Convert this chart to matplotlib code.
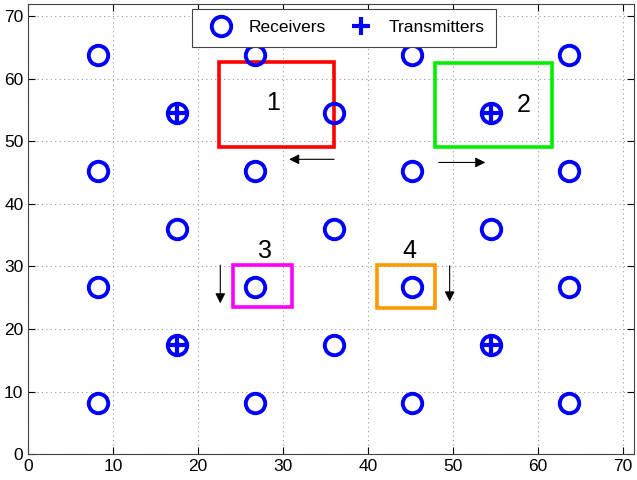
import matplotlib
matplotlib.use("Agg")
import matplotlib.pyplot as plt
import matplotlib.patches as patches

plt.rcParams['font.family'] = ['Liberation Sans', 'DejaVu Sans']

# receivers: outer 4x4 grid and inner 3x3 grid
outer_pos = [8.2, 26.7, 45.2, 63.7]
inner_pos = [17.5, 36.0, 54.5]
rx_x = [x for y in outer_pos for x in outer_pos] + [x for y in inner_pos for x in inner_pos]
rx_y = [y for y in outer_pos for x in outer_pos] + [y for y in inner_pos for x in inner_pos]

# transmitters
tx_x = [17.5, 54.5, 17.5, 54.5]
tx_y = [54.5, 54.5, 17.5, 17.5]

# numbered regions: (x0, y0, x1, y1)
region_names = ['1', '2', '3', '4']
region_boxes = [(22.4, 49.1, 36.0, 62.6), (47.9, 49.1, 61.6, 62.5),
                (24.1, 23.5, 31.1, 30.2), (41.0, 23.4, 47.9, 30.2)]
region_colors = ['#ff0000', '#00ee00', '#ff00ff', '#ff9900']
label_xy = [(28.8, 56.1), (58.3, 55.8), (27.9, 32.4), (44.8, 32.4)]

# movement arrows: (tail, head)
arrows = [((36.0, 47.1), (30.7, 47.1)), ((48.3, 46.6), (53.8, 46.6)),
          ((22.6, 30.2), (22.6, 24.1)), ((49.6, 30.1), (49.6, 24.4))]

fig = plt.figure(figsize=(6.37, 4.8), dpi=100)
ax = fig.add_axes([28.3 / 637, 1 - 454.3 / 480, (634 - 28.3) / 637, (454.3 - 4) / 480])

for (x0, y0, x1, y1), c in zip(region_boxes, region_colors):
    rect = patches.Rectangle((x0, y0), x1 - x0, y1 - y0, fill=False,
                             edgecolor=c, linewidth=2.6, zorder=3)
    ax.add_patch(rect)

for name, (lx, ly) in zip(region_names, label_xy):
    ax.text(lx, ly, name, fontsize=18, ha='center', va='center', zorder=5)

for tail, head in arrows:
    ax.annotate('', xy=head, xytext=tail,
                arrowprops=dict(arrowstyle='-|>', color='k', lw=0.8,
                                mutation_scale=15, shrinkA=0, shrinkB=0))

ax.plot(rx_x, rx_y, 'o', ms=14, mfc='none', mec='#0000ff', mew=2.8,
        linestyle='none', label='Receivers', zorder=4)
ax.plot(tx_x, tx_y, '+', ms=13, mec='#0000ff', mew=3,
        linestyle='none', label='Transmitters', zorder=4)

ax.set_xlim(0, 71.3)
ax.set_ylim(0, 71.9)
ax.set_xticks(range(0, 71, 10))
ax.set_yticks(range(0, 71, 10))
ax.tick_params(direction='in', top=True, right=True, labelsize=12.5, length=5)
ax.grid(True, linestyle=(0, (1, 3)), color='#999999', linewidth=0.8)
ax.set_axisbelow(True)
for s in ax.spines.values():
    s.set_color('#444444')

leg = ax.legend(loc='upper center', bbox_to_anchor=(0.521, 0.989), ncol=2,
                fontsize=12.5, fancybox=False, framealpha=1, edgecolor='#444444',
                handletextpad=0.6, columnspacing=1.0, borderpad=0.65,
                borderaxespad=0)
leg.get_frame().set_linewidth(0.8)

fig.savefig('out.png', dpi=100)
